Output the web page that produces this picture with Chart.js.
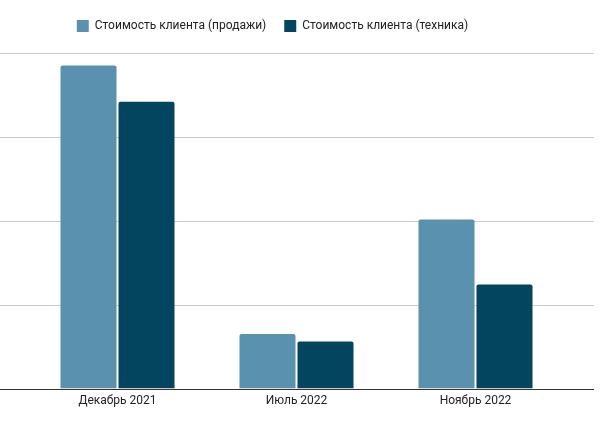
<!DOCTYPE html>
<html>
<head>
<meta charset="utf-8">
<script src="https://cdn.jsdelivr.net/npm/chart.js@4.4.1"></script>
<style>
  html, body { margin: 0; padding: 0; background: #fff; }
  #wrap { width: 607px; height: 421px; }
</style>
</head>
<body>
<div id="wrap"><canvas id="chart"></canvas></div>
<script>
var categories = ['Декабрь 2021', 'Июль 2022', 'Ноябрь 2022'];
var salesLabel = 'Стоимость клиента (продажи)';
var techLabel = 'Стоимость клиента (техника)';
var salesValues = [3850, 650, 2015];
var techValues = [3420, 560, 1240];
var yTicks = [0, 1000, 2000, 3000, 4000];

var SALES_COLOR = '#5a91ae';
var TECH_COLOR = '#03445e';

function hline(ctx, py, color) {
  ctx.strokeStyle = color;
  ctx.lineWidth = 1;
  ctx.beginPath();
  ctx.moveTo(0, py);
  ctx.lineTo(594, py);
  ctx.stroke();
}

// horizontal gridlines run wider than the category area, like the original
var gridPlugin = {
  id: 'wideGrid',
  beforeDatasetsDraw: function (chart) {
    var ctx = chart.ctx;
    var y = chart.scales.y;
    ctx.save();
    yTicks.forEach(function (v) {
      if (v === 0) return;
      hline(ctx, Math.round(y.getPixelForValue(v)) + 0.5, '#cccccc');
    });
    ctx.restore();
  },
  afterDatasetsDraw: function (chart) {
    var ctx = chart.ctx;
    ctx.save();
    hline(ctx, Math.round(chart.scales.y.getPixelForValue(0)) + 0.5, '#333333');
    ctx.restore();
  }
};

// nudge the legend to sit where the original has it
var legendShift = {
  id: 'legendShift',
  afterLayout: function (chart) {
    var lg = chart.legend;
    lg.left -= 24;
    lg.right -= 24;
    lg.top -= 11;
    lg.bottom -= 11;
  }
};

new Chart(document.getElementById('chart'), {
  type: 'bar',
  data: {
    labels: categories,
    datasets: [{
      label: salesLabel,
      data: salesValues,
      backgroundColor: SALES_COLOR,
      borderRadius: 2,
      borderSkipped: 'start'
    }, {
      label: techLabel,
      data: techValues,
      backgroundColor: TECH_COLOR,
      borderRadius: 2,
      borderSkipped: 'start'
    }]
  },
  options: {
    responsive: true,
    maintainAspectRatio: false,
    animation: false,
    layout: { padding: { left: 28, right: 42, top: 13, bottom: 8 } },
    plugins: {
      legend: {
        position: 'top',
        labels: {
          boxWidth: 12,
          boxHeight: 12,
          padding: 18,
          color: '#222222',
          font: { family: 'Roboto', size: 12 }
        }
      },
      tooltip: { enabled: false }
    },
    datasets: {
      bar: { categoryPercentage: 0.648, barPercentage: 0.966 }
    },
    scales: {
      x: {
        grid: { display: false, drawTicks: false },
        border: { display: false },
        ticks: { color: '#222222', padding: 5, font: { family: 'Roboto', size: 12 } }
      },
      y: {
        display: false,
        min: 0,
        max: 4000,
        afterBuildTicks: function (scale) {
          scale.ticks = yTicks.map(function (v) { return { value: v }; });
        }
      }
    }
  },
  plugins: [gridPlugin, legendShift]
});
</script>
</body>
</html>
